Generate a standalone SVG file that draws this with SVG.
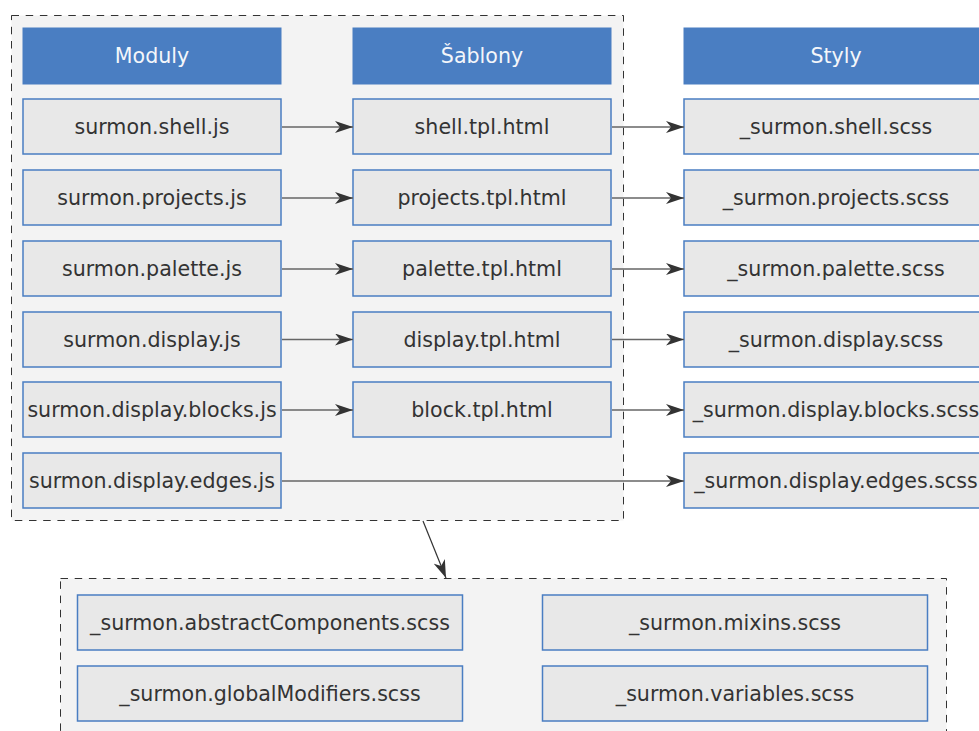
<svg xmlns="http://www.w3.org/2000/svg" width="979" height="731" viewBox="0 0 979 731">
  <defs>
    <marker id="arrow" viewBox="0 0 18 12" refX="18" refY="6" markerWidth="18" markerHeight="12" markerUnits="userSpaceOnUse" orient="auto">
      <path d="M0,0 L18,6 L0,12 L5,6 Z" fill="#333333"/>
    </marker>
    <style>
      .group { fill: #f3f3f3; stroke: #333333; stroke-width: 1; stroke-dasharray: 7.5 6.7; }
      .head rect { fill: #4a7ec2; stroke: #4a7ec2; }
      .head text { fill: #f4f6fa; }
      .node rect { fill: #e8e8e8; stroke: #4a7ec2; stroke-width: 1.5; }
      .node text { fill: #333333; }
      text { font-family: "DejaVu Sans", Verdana, sans-serif; font-size: 20.6px; text-anchor: middle; }
      .edge { fill: none; stroke: #666666; stroke-width: 1.5; marker-end: url(#arrow); }
    </style>
  </defs>
  <rect width="979" height="731" fill="#ffffff"/>

  <!-- module / template group -->
  <rect id="frontend" class="group" x="11.5" y="15.5" width="612" height="505"/>
  <!-- shared stylesheet group -->
  <rect id="shared" class="group" x="60.5" y="578.5" width="886" height="170"/>

  <!-- column headers -->
  <g id="h-moduly" class="head"><rect x="23" y="28" width="258" height="56"/><text x="152" y="63">Moduly</text></g>
  <g id="h-sablony" class="head"><rect x="353" y="28" width="258" height="56"/><text x="482" y="63">Šablony</text></g>
  <g id="h-styly" class="head"><rect x="684" y="28" width="304" height="56"/><text x="836" y="63">Styly</text></g>

  <!-- modules -->
  <g id="m-shell" class="node"><rect x="23" y="99" width="258" height="55"/><text x="152" y="134">surmon.shell.js</text></g>
  <g id="m-projects" class="node"><rect x="23" y="170" width="258" height="55"/><text x="152" y="205">surmon.projects.js</text></g>
  <g id="m-palette" class="node"><rect x="23" y="241" width="258" height="55"/><text x="152" y="276">surmon.palette.js</text></g>
  <g id="m-display" class="node"><rect x="23" y="312" width="258" height="55"/><text x="152" y="347">surmon.display.js</text></g>
  <g id="m-blocks" class="node"><rect x="23" y="382" width="258" height="55"/><text x="152" y="417">surmon.display.blocks.js</text></g>
  <g id="m-edges" class="node"><rect x="23" y="453" width="258" height="55"/><text x="152" y="488">surmon.display.edges.js</text></g>

  <!-- templates -->
  <g id="t-shell" class="node"><rect x="353" y="99" width="258" height="55"/><text x="482" y="134">shell.tpl.html</text></g>
  <g id="t-projects" class="node"><rect x="353" y="170" width="258" height="55"/><text x="482" y="205">projects.tpl.html</text></g>
  <g id="t-palette" class="node"><rect x="353" y="241" width="258" height="55"/><text x="482" y="276">palette.tpl.html</text></g>
  <g id="t-display" class="node"><rect x="353" y="312" width="258" height="55"/><text x="482" y="347">display.tpl.html</text></g>
  <g id="t-block" class="node"><rect x="353" y="382" width="258" height="55"/><text x="482" y="417">block.tpl.html</text></g>

  <!-- styles -->
  <g id="s-shell" class="node"><rect x="684" y="99" width="304" height="55"/><text x="836" y="134">_surmon.shell.scss</text></g>
  <g id="s-projects" class="node"><rect x="684" y="170" width="304" height="55"/><text x="836" y="205">_surmon.projects.scss</text></g>
  <g id="s-palette" class="node"><rect x="684" y="241" width="304" height="55"/><text x="836" y="276">_surmon.palette.scss</text></g>
  <g id="s-display" class="node"><rect x="684" y="312" width="304" height="55"/><text x="836" y="347">_surmon.display.scss</text></g>
  <g id="s-blocks" class="node"><rect x="684" y="382" width="304" height="55"/><text x="836" y="417">_surmon.display.blocks.scss</text></g>
  <g id="s-edges" class="node"><rect x="684" y="453" width="304" height="55"/><text x="836" y="488">_surmon.display.edges.scss</text></g>

  <!-- shared stylesheets -->
  <g id="c-abstract" class="node"><rect x="77.5" y="595" width="385" height="55"/><text x="270" y="630">_surmon.abstractComponents.scss</text></g>
  <g id="c-mixins" class="node"><rect x="542.5" y="595" width="385" height="55"/><text x="735" y="630">_surmon.mixins.scss</text></g>
  <g id="c-global" class="node"><rect x="77.5" y="666" width="385" height="55"/><text x="270" y="701">_surmon.globalModifiers.scss</text></g>
  <g id="c-variables" class="node"><rect x="542.5" y="666" width="385" height="55"/><text x="735" y="701">_surmon.variables.scss</text></g>

  <!-- connectors -->
  <g id="connectors">
    <line class="edge" x1="282" y1="127" x2="353" y2="127"/>
    <line class="edge" x1="282" y1="198" x2="353" y2="198"/>
    <line class="edge" x1="282" y1="269" x2="353" y2="269"/>
    <line class="edge" x1="282" y1="339.5" x2="353" y2="339.5"/>
    <line class="edge" x1="282" y1="410" x2="353" y2="410"/>
    <line class="edge" x1="612" y1="127" x2="684" y2="127"/>
    <line class="edge" x1="612" y1="198" x2="684" y2="198"/>
    <line class="edge" x1="612" y1="269" x2="684" y2="269"/>
    <line class="edge" x1="612" y1="339.5" x2="684" y2="339.5"/>
    <line class="edge" x1="612" y1="410" x2="684" y2="410"/>
    <line class="edge" x1="282" y1="481" x2="684" y2="481"/>
    <line class="edge" x1="423" y1="521" x2="446" y2="578" style="stroke:#333333;stroke-width:1.2"/>
  </g>
</svg>
